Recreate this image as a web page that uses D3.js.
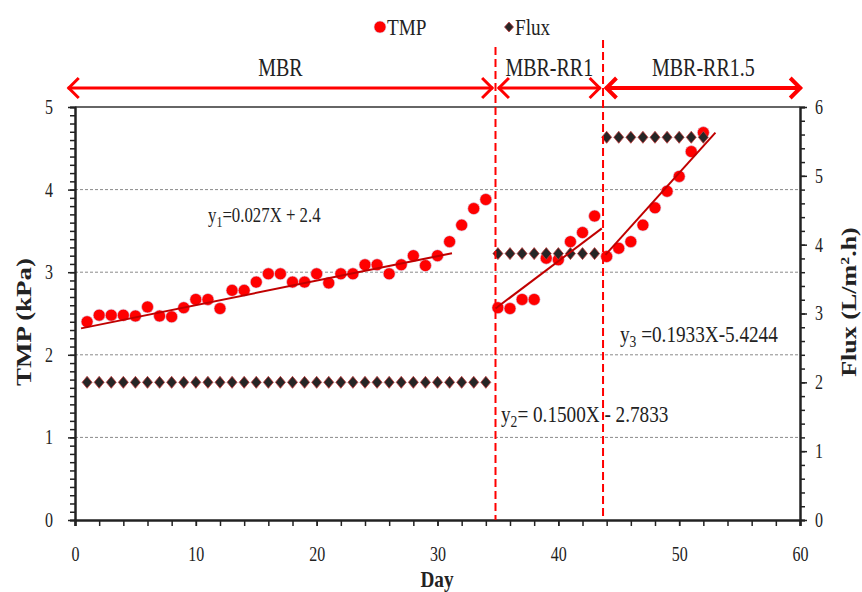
<!DOCTYPE html>
<html>
<head>
<meta charset="utf-8">
<script src="https://cdn.jsdelivr.net/npm/d3@7"></script>
<style>
  body { margin: 0; background: #fff; }
  text { font-family: "Liberation Serif", "Times New Roman", serif; fill: #222; }
</style>
</head>
<body>
<div id="chart"></div>
<script>
// TMP and flux over the three operating phases

// day numbers and TMP readings (kPa)
var tmpDays = [1, 2, 3, 4, 5, 6, 7, 8, 9, 10, 11, 12, 13, 14, 15, 16, 17, 18, 19, 20,
  21, 22, 23, 24, 25, 26, 27, 28, 29, 30, 31, 32, 33, 34,
  35, 36, 37, 38, 39, 40, 41, 42, 43,
  44, 45, 46, 47, 48, 49, 50, 51, 52];
var tmpValues = [2.40, 2.48, 2.48, 2.48, 2.47, 2.58, 2.47, 2.46, 2.57, 2.67, 2.67, 2.56, 2.78, 2.78, 2.88, 2.98, 2.98, 2.88, 2.88, 2.98,
  2.87, 2.98, 2.98, 3.09, 3.09, 2.98, 3.09, 3.20, 3.08, 3.20, 3.37, 3.57, 3.77, 3.88,
  2.57, 2.56, 2.67, 2.67, 3.17, 3.15, 3.37, 3.48, 3.68,
  3.19, 3.29, 3.37, 3.57, 3.78, 3.98, 4.16, 4.46, 4.69];

// flux (L/m2.h), one reading a day
var fluxDays = d3.range(1, 53);
var fluxValues = fluxDays.map(function(d) {
  if (d <= 34) return 2.0;
  if (d <= 43) return 3.87;
  return 5.56;
});

// trend lines as drawn: start day, end day, TMP at start, TMP at end
var trendStart = [0.5, 34.8, 43.9];
var trendEnd = [31.2, 43.6, 53.0];
var trendStartTMP = [2.32, 2.56, 3.21];
var trendEndTMP = [3.23, 3.53, 4.69];

// phase names and the day limits between them
var phaseNames = ["MBR", "MBR-RR1", "MBR-RR1.5"];
var phaseStart = [-0.6, 35.0, 43.9];
var phaseEnd = [34.6, 43.5, 60.1];
var phaseBorders = [34.8, 43.7];

// axis ticks
var xMajor = [0, 10, 20, 30, 40, 50, 60];
var yLeftMajor = [0, 1, 2, 3, 4, 5];
var yRightMajor = [0, 1, 2, 3, 4, 5, 6];
var gridValues = [1, 2, 3, 4];

var svgWidth = 862;
var svgHeight = 592;

var margin = {
  top: 107,
  right: 62,
  bottom: 72,
  left: 75
};

var width = svgWidth - margin.left - margin.right;
var height = svgHeight - margin.top - margin.bottom;

// the source figure is squeezed sideways, so text is narrowed a bit
var squeeze = 0.8;

var svg = d3.select("#chart")
  .append("svg")
  .attr("width", svgWidth)
  .attr("height", svgHeight);

var chartGroup = svg.append("g")
  .attr("transform", `translate(${margin.left}, ${margin.top})`);

// move x/y of a text into a transform and narrow it
function narrow(sel, rotate) {
  sel.each(function() {
    var t = d3.select(this);
    var x = +t.attr("x") || 0;
    var y = +t.attr("y") || 0;
    t.attr("x", 0).attr("y", 0)
      .attr("transform", `translate(${x}, ${y}) scale(${squeeze}, 1)` + (rotate ? " rotate(-90)" : ""));
  });
  return sel;
}

// scales
var xScale = d3.scaleLinear().domain([0, 60]).range([0, width]);
var yLeft = d3.scaleLinear().domain([0, 5]).range([height, 0]);
var yRight = d3.scaleLinear().domain([0, 6]).range([height, 0]);

// dashed grid lines
chartGroup.selectAll(".grid")
  .data(gridValues)
  .enter()
  .append("line")
  .attr("x1", 0)
  .attr("x2", width)
  .attr("y1", d => yLeft(d))
  .attr("y2", d => yLeft(d))
  .attr("stroke", "#8a8a8a")
  .attr("stroke-width", 1)
  .attr("stroke-dasharray", "3,2");

// top border
chartGroup.append("line")
  .attr("x1", 0).attr("x2", width)
  .attr("y1", 0).attr("y2", 0)
  .attr("stroke", "#333")
  .attr("stroke-width", 1.5);

function styleAxis(g) {
  g.attr("font-family", null);
  g.select(".domain").attr("stroke", "#222").attr("stroke-width", 2);
  g.selectAll(".tick line").attr("stroke", "#222").attr("stroke-width", 1.5);
  g.selectAll("text")
    .style("font-family", "Liberation Serif, serif")
    .style("font-size", "20px")
    .attr("fill", "#222");
  narrow(g.selectAll("text"));
}

// x axis: minor every 2 days, major every 10
chartGroup.append("g")
  .attr("transform", `translate(0, ${height})`)
  .call(d3.axisBottom(xScale).tickValues(d3.range(0, 61, 2)).tickSize(6).tickFormat(""))
  .call(styleAxis);

chartGroup.append("g")
  .attr("transform", `translate(0, ${height})`)
  .call(d3.axisBottom(xScale).tickValues(xMajor).tickSize(6).tickPadding(21))
  .call(styleAxis);

// left axis
chartGroup.append("g")
  .call(d3.axisLeft(yLeft).tickValues(d3.range(0, 51).map(d => d / 10)).tickSize(5).tickFormat(""))
  .call(styleAxis);

chartGroup.append("g")
  .call(d3.axisLeft(yLeft).tickValues(yLeftMajor).tickSizeInner(7).tickSizeOuter(0).tickPadding(15).tickFormat(d3.format("d")))
  .call(styleAxis);

// right axis
chartGroup.append("g")
  .attr("transform", `translate(${width}, 0)`)
  .call(d3.axisRight(yRight).tickValues(d3.range(0, 31).map(d => d / 5)).tickSize(5).tickFormat(""))
  .call(styleAxis);

chartGroup.append("g")
  .attr("transform", `translate(${width}, 0)`)
  .call(d3.axisRight(yRight).tickValues(yRightMajor).tickSizeInner(7).tickSizeOuter(0).tickPadding(8).tickFormat(d3.format("d")))
  .call(styleAxis);

// axis titles
narrow(chartGroup.append("text")
  .attr("x", 23 - margin.left)
  .attr("y", 322 - margin.top)
  .attr("dy", "0.35em")
  .attr("text-anchor", "middle")
  .style("font-size", "27px")
  .style("font-weight", "bold")
  .text("TMP (kPa)"), true);

var fluxTitle = chartGroup.append("text")
  .attr("x", 849 - margin.left)
  .attr("y", 302 - margin.top)
  .attr("dy", "0.35em")
  .attr("text-anchor", "middle")
  .style("font-size", "26px")
  .style("font-weight", "bold");
fluxTitle.append("tspan").text("Flux (L/m");
fluxTitle.append("tspan").attr("dy", -9).style("font-size", "16px").text("2");
fluxTitle.append("tspan").attr("dy", 9).text(".h)");
narrow(fluxTitle, true);

narrow(chartGroup.append("text")
  .attr("x", 437 - margin.left)
  .attr("y", 587 - margin.top)
  .attr("text-anchor", "middle")
  .style("font-size", "24px")
  .style("font-weight", "bold")
  .text("Day"));

// TMP points
chartGroup.selectAll(".tmp")
  .data(tmpDays)
  .enter()
  .append("circle")
  .attr("class", "tmp")
  .attr("cx", d => xScale(d))
  .attr("cy", (d, i) => yLeft(tmpValues[i]))
  .attr("r", 6)
  .attr("fill", "#ff0000")
  .attr("stroke", "#d6d8f4")
  .attr("stroke-width", 0.6);

// flux diamonds
var diamond = "M0,-6L5,0L0,6L-5,0Z";
chartGroup.selectAll(".flux")
  .data(fluxDays)
  .enter()
  .append("path")
  .attr("class", "flux")
  .attr("d", diamond)
  .attr("transform", (d, i) => `translate(${xScale(d)}, ${yRight(fluxValues[i])})`)
  .attr("fill", "#262626")
  .attr("stroke", "#c23a3a")
  .attr("stroke-width", 0.8);

// trend lines
chartGroup.selectAll(".trend")
  .data(trendStart)
  .enter()
  .append("line")
  .attr("class", "trend")
  .attr("x1", d => xScale(d))
  .attr("y1", (d, i) => yLeft(trendStartTMP[i]))
  .attr("x2", (d, i) => xScale(trendEnd[i]))
  .attr("y2", (d, i) => yLeft(trendEndTMP[i]))
  .attr("stroke", "#c00000")
  .attr("stroke-width", 2);

// red dashed phase borders
var borderTops = [-60, -67];
chartGroup.selectAll(".border")
  .data(phaseBorders)
  .enter()
  .append("line")
  .attr("x1", d => xScale(d))
  .attr("x2", d => xScale(d))
  .attr("y1", (d, i) => borderTops[i])
  .attr("y2", height)
  .attr("stroke", "#ff0000")
  .attr("stroke-width", 2)
  .attr("stroke-dasharray", "8,4");

// phase arrows
var arrowY = -19;
var arrowGroup = chartGroup.append("g");
phaseNames.forEach(function(name, i) {
  var x0 = xScale(phaseStart[i]);
  var x1 = xScale(phaseEnd[i]);
  var sw = i === 2 ? 4 : 3;
  arrowGroup.append("line")
    .attr("x1", x0).attr("x2", x1)
    .attr("y1", arrowY).attr("y2", arrowY)
    .attr("stroke", "#ff0000")
    .attr("stroke-width", sw);
  arrowGroup.append("path")
    .attr("d", `M${x0 + 11},${arrowY - 10}L${x0 + 1},${arrowY}L${x0 + 11},${arrowY + 10}`)
    .attr("fill", "none")
    .attr("stroke", "#ff0000")
    .attr("stroke-width", sw);
  arrowGroup.append("path")
    .attr("d", `M${x1 - 11},${arrowY - 10}L${x1 - 1},${arrowY}L${x1 - 11},${arrowY + 10}`)
    .attr("fill", "none")
    .attr("stroke", "#ff0000")
    .attr("stroke-width", sw);
  narrow(arrowGroup.append("text")
    .attr("x", (x0 + x1) / 2)
    .attr("y", -31)
    .attr("text-anchor", "middle")
    .style("font-size", "25px")
    .text(name));
});

// regression equations
function equation(x, y, size, sub, rest) {
  var t = chartGroup.append("text")
    .attr("x", x - margin.left)
    .attr("y", y - margin.top)
    .style("font-size", size + "px");
  t.append("tspan").text("y");
  t.append("tspan").attr("dy", 5).style("font-size", Math.round(size * 0.72) + "px").text(sub);
  t.append("tspan").attr("dy", -5).text(rest);
  narrow(t);
}
equation(208, 222, 21, "1", "=0.027X + 2.4");
equation(501, 422, 24, "2", "= 0.1500X - 2.7833");
equation(620, 342, 24, "3", " =0.1933X-5.4244");

// legend
var legend = svg.append("g");
legend.append("circle")
  .attr("cx", 380).attr("cy", 27).attr("r", 6)
  .attr("fill", "#ff0000")
  .attr("stroke", "#d6d8f4")
  .attr("stroke-width", 0.6);
narrow(legend.append("text")
  .attr("x", 387).attr("y", 35)
  .style("font-size", "24px")
  .text("TMP"));
legend.append("path")
  .attr("d", "M0,-5L4.5,0L0,5L-4.5,0Z")
  .attr("transform", "translate(509, 27)")
  .attr("fill", "#262626")
  .attr("stroke", "#c23a3a")
  .attr("stroke-width", 0.8);
narrow(legend.append("text")
  .attr("x", 515).attr("y", 35)
  .style("font-size", "24px")
  .text("Flux"));
</script>
</body>
</html>
